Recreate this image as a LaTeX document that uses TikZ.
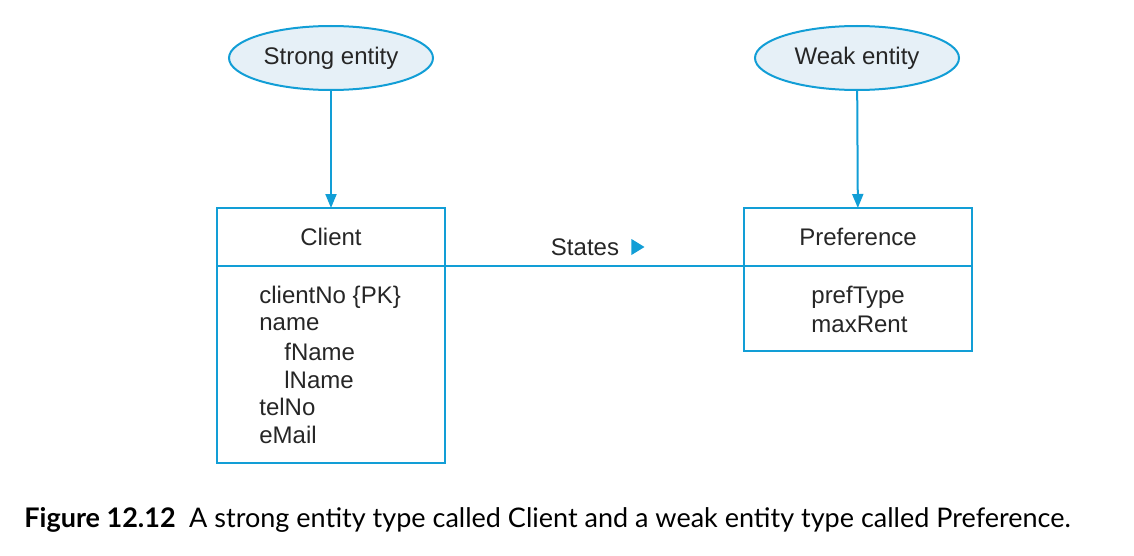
\documentclass[tikz,border=0pt]{standalone}
\usepackage{fontspec}
\setmainfont{Liberation Sans}
\newfontfamily\capfont{Lato}
\usetikzlibrary{arrows.meta,shapes.geometric,positioning}
\definecolor{erblue}{RGB}{18,158,214}
\definecolor{erfill}{RGB}{230,240,247}

\tikzset{
	entity/.style={ellipse, draw=erblue, fill=erfill, line width=1pt, inner sep=0pt,
		minimum width=102pt, minimum height=32pt},
	header/.style={rectangle, draw=erblue, line width=1pt, minimum width=114pt,
		minimum height=29pt, inner sep=0pt, outer sep=0pt},
	attrbox/.style={rectangle, draw=erblue, line width=1pt, minimum width=114pt,
		inner sep=0pt, outer sep=0pt},
	attr/.style={anchor=west, inner sep=0pt},
	link/.style={draw=erblue, line width=1pt},
	isa/.style={link, -{Triangle[length=7pt,width=5.5pt]}}
}

\begin{document}
\begin{tikzpicture}[x=0.5pt, y=-0.5pt, font=\fontsize{12}{14}\selectfont, text=black!85]
				\useasboundingbox (0,0) rectangle (1134,556);
				
				\node[entity] (strong) at (331,58) {Strong entity};
				\node[entity] (weak) at (857,58) {Weak entity};
				
				\node[header, anchor=north] (client) at (331,208) {Client};
				\node[header, anchor=north] (pref) at (858,208) {Preference};
				\node[attrbox, anchor=north, minimum height=98.5pt] (clientbody) at (client.south) {};
				\node[attrbox, anchor=north, minimum height=42.5pt] (prefbody) at (pref.south) {};
				
				\draw[isa] (strong) -- (client);
				\draw[isa] (weak) -- (pref);
				\draw[link] (client.south east) -- (pref.south west);
				
				\node (states) at (585,247) {States};
				\node[isosceles triangle, isosceles triangle stretches, fill=erblue, inner sep=0pt,
					minimum width=8pt, minimum height=6.5pt, right=2.5pt of states] (dir) {};
				
				% attributes
				\foreach \name/\dx [count=\i] in {clientNo \{PK\}/0, name/0, fName/25, lName/25, telNo/0, eMail/0}{
					\node[attr] (c\i) at (259+\dx, 297+27.6*\i-27.6) {\name};}
				\foreach \name [count=\i] in {prefType, maxRent}{
					\node[attr] (p\i) at (811, 297+27.6*\i-27.6) {\name};}
				
				\node[anchor=base west, inner sep=0pt, text=black, font=\capfont\fontsize{13.5}{16}\selectfont] (caption) at (24,527)
				{\textbf{Figure 12.12}\hspace{0.5em}A strong entity type called Client and a weak entity type called Preference.};
			\end{tikzpicture}
\end{document}
